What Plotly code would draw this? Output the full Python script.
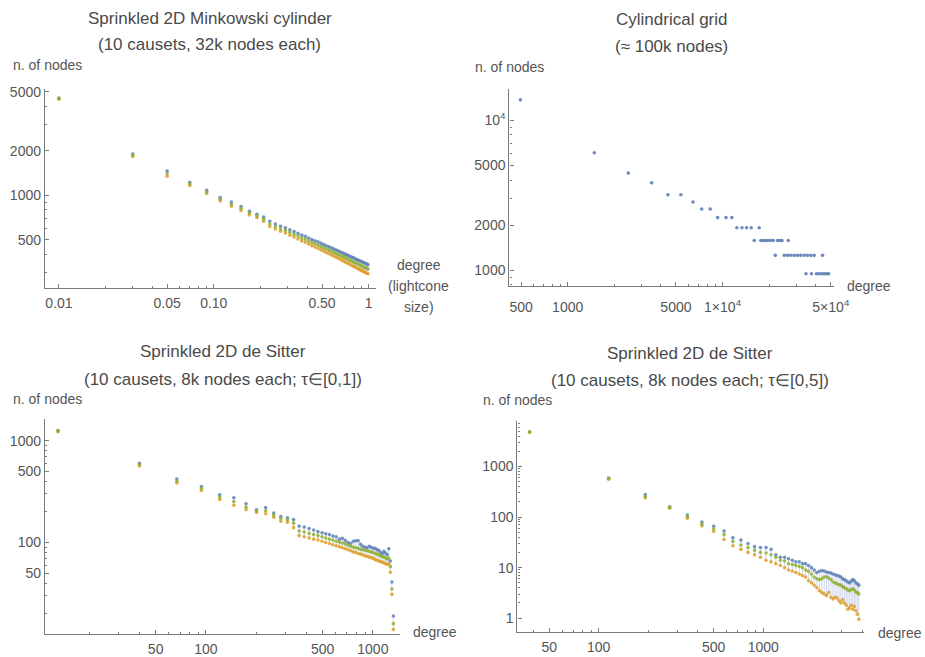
import plotly.graph_objects as go

W, H = 925, 657
PAGE_W = 940  # layout width; fractions below are taken against the 925-px reference

# ---------------- data ----------------
# Panel 1: Sprinkled 2D Minkowski cylinder (degree = lightcone size)
mink_degree = [0.01, 0.03, 0.05, 0.07, 0.09, 0.11, 0.13, 0.15, 0.17, 0.19,
               0.21, 0.23, 0.25, 0.27, 0.29, 0.31, 0.33, 0.35, 0.37, 0.39,
               0.41, 0.43, 0.45, 0.47, 0.49, 0.51, 0.53, 0.55, 0.57, 0.59,
               0.61, 0.63, 0.65, 0.67, 0.69, 0.71, 0.73, 0.75, 0.77, 0.79,
               0.81, 0.83, 0.85, 0.87, 0.89, 0.91, 0.93, 0.95, 0.97, 0.99]
mink_high = [4540, 1900, 1460, 1225, 1080, 965, 900, 840, 780, 745,
             712, 668, 640, 618, 603, 585, 568, 553, 538, 528,
             515, 502, 493, 485, 475, 466, 458, 451, 443, 436,
             429, 423, 417, 411, 405, 399, 394, 389, 384, 379,
             375, 370, 366, 362, 358, 354, 351, 347, 344, 340]
mink_mid = [4500, 1860, 1400, 1195, 1055, 940, 870, 815, 760, 728,
            690, 640, 615, 595, 580, 562, 545, 530, 515, 505,
            492, 480, 470, 462, 452, 443, 435, 428, 420, 413,
            406, 400, 394, 388, 382, 376, 371, 366, 361, 356,
            352, 347, 343, 339, 335, 331, 328, 324, 321, 318]
mink_low = [4460, 1830, 1345, 1165, 1030, 915, 845, 790, 738, 708,
            668, 615, 592, 572, 556, 538, 522, 507, 492, 482,
            469, 457, 447, 439, 429, 420, 412, 405, 397, 390,
            383, 377, 371, 365, 359, 353, 348, 343, 338, 333,
            329, 324, 320, 316, 312, 308, 305, 301, 298, 295]

# Panel 2: Cylindrical grid
grid_degree = [495, 1486, 2461, 3485, 4436, 5383, 6440, 7330, 8320,
               9290, 10520, 11480,
               12360, 13330, 14290, 15310, 17250,
               16000, 17660, 18280, 18930, 19600, 20400, 21230, 22650, 23450, 24170, 26540,
               21880, 25000, 26260, 27580, 28970, 30430, 31960, 33660, 35320, 37150, 39000, 44150,
               34540, 37500, 40380, 42070, 43750, 45290, 46880, 48310]
grid_count = [13700, 6080, 4450, 3830, 3190, 3190, 2858, 2560, 2560,
              2248, 2248, 2248,
              1925, 1925, 1925, 1925, 1925,
              1582, 1582, 1582, 1582, 1582, 1582, 1582, 1582, 1582, 1582, 1582,
              1259, 1259, 1259, 1259, 1259, 1259, 1259, 1259, 1259, 1259, 1259, 1259,
              950, 950, 950, 950, 950, 950, 950, 950]

# Panel 3: Sprinkled 2D de Sitter, tau in [0,1]
ds1_degree = [13, 40, 67, 94, 121, 147, 174, 201, 228, 255,
              281, 308, 335, 362, 388, 415, 442, 469, 496, 522,
              549, 576, 603, 630, 656, 683, 710, 737, 764, 790,
              817, 844, 871, 898, 924, 951, 978, 1005, 1032, 1058,
              1085, 1112, 1139, 1166, 1192, 1219, 1246, 1273, 1300, 1327]
ds1_high = [1255, 600, 420, 355, 295, 275, 240, 210, 220, 195,
            180, 175, 168, 145, 142, 137, 133, 128, 125, 122,
            120, 116, 114, 108, 110, 105, 100, 98, 103, 104,
            104, 96, 92, 90, 89, 92, 90, 88, 88, 85,
            84, 80, 78, 82, 79, 76, 87, 66, 41, 19]
ds1_mid = [1240, 582, 400, 340, 280, 253, 222, 205, 205, 186,
           172, 167, 155, 130, 127, 123, 120, 117, 114, 111,
           108, 106, 103, 101, 99, 97, 94, 92, 90, 89,
           88, 86, 85, 84, 83, 82, 81, 80, 78, 77,
           76, 74, 73, 72, 71, 69, 70, 58, 35, 16]
ds1_low = [1225, 565, 385, 325, 265, 232, 210, 198, 192, 177,
           162, 158, 140, 117, 114, 111, 108, 106, 103, 100,
           98, 95, 93, 91, 89, 87, 85, 83, 81, 80,
           78, 77, 76, 74, 73, 72, 71, 70, 68, 67,
           66, 65, 64, 63, 62, 61, 62, 51, 31, 14]

# Panel 4: Sprinkled 2D de Sitter, tau in [0,5]
ds5_degree = [38, 115, 192, 270, 346, 424, 500, 578, 654, 732,
              808, 886, 962, 1040, 1116, 1194, 1270, 1348, 1424, 1502,
              1578, 1656, 1732, 1810, 1886, 1964, 2040, 2118, 2194, 2272,
              2348, 2426, 2502, 2580, 2656, 2734, 2810, 2888, 2964, 3042,
              3118, 3196, 3272, 3350, 3426, 3504, 3580, 3658, 3734, 3812]
ds5_high = [4850, 590, 280, 160, 110, 80, 66, 53, 39, 35,
            30, 26, 25, 25, 23, 18, 16, 16, 15, 14,
            13, 13, 12, 12, 11, 10, 9, 8, 8.5, 8.8,
            8.6, 8.2, 8, 7.8, 7.5, 7.2, 7, 6.8, 6.5, 6,
            5.8, 5.5, 5.2, 5, 5.4, 5.8, 5.5, 5, 4.8, 4.5]
ds5_mid = [4800, 575, 255, 155, 102, 72, 58, 45, 33, 28,
           25, 22, 20, 19.5, 18, 16, 14, 13.5, 12, 11.5,
           11, 10.5, 10, 9, 8.5, 7.5, 6.5, 6, 5.8, 6,
           6.5, 6.6, 6.2, 5.8, 5.2, 5, 4.8, 4.6, 4.5, 4.2,
           4, 3.8, 3.6, 3.5, 3.7, 3.8, 3.6, 3.3, 3.2, 3.0]
ds5_low = [4750, 560, 240, 150, 95, 67, 52, 36, 27, 23,
           20, 18, 16, 14, 13, 12, 11, 10, 9, 8.5,
           8, 7.5, 7, 6.5, 5.5, 5, 4.5, 4, 3.5, 3.2,
           3, 2.8, 3.2, 2.6, 2.4, 2.6, 2.5, 2.2, 2, 2.3,
           2, 1.8, 1.5, 1.6, 1.8, 1.5, 1.7, 1.4, 1.2, 0.95]

# ---------------- style ----------------
BLUE = "#5E81B5"
ORANGE = "#E19C24"
GREEN = "#8FB032"
BAR = "rgba(175,185,225,0.6)"
AX = "#7a7a7a"
TXT = "#555555"
TIT = "#4a4a4a"
FONT = "Liberation Sans, Arial, sans-serif"

fig = go.Figure()


def add_three(xs, hi, mid, lo, n):
    xa, ya = ("x", "y") if n == 1 else (f"x{n}", f"y{n}")
    fig.add_trace(go.Scatter(
        x=xs, y=mid, mode="markers", marker=dict(size=1, opacity=0),
        error_y=dict(type="data", symmetric=False,
                     array=[h - m for h, m in zip(hi, mid)],
                     arrayminus=[m - l for m, l in zip(mid, lo)],
                     color=BAR, thickness=1, width=0),
        xaxis=xa, yaxis=ya, hoverinfo="skip", showlegend=False))
    for ys, c in ((hi, BLUE), (lo, ORANGE), (mid, GREEN)):
        fig.add_trace(go.Scatter(x=xs, y=ys, mode="markers",
                                 marker=dict(size=3.6, color=c, opacity=0.85),
                                 xaxis=xa, yaxis=ya, showlegend=False))


add_three(mink_degree, mink_high, mink_mid, mink_low, 1)
fig.add_trace(go.Scatter(x=grid_degree, y=grid_count, mode="markers",
                         marker=dict(size=3.6, color=BLUE, opacity=0.9),
                         xaxis="x2", yaxis="y2", showlegend=False))
add_three(ds1_degree, ds1_high, ds1_mid, ds1_low, 3)
add_three(ds5_degree, ds5_high, ds5_mid, ds5_low, 4)


def axis(dom_px, rng, vals, texts, minor, anchor, horizontal, standoff=0):
    if horizontal:
        dom = [dom_px[0] / W, dom_px[1] / W]
    else:
        dom = [1 - dom_px[1] / H, 1 - dom_px[0] / H]
    return dict(type="log", domain=dom, range=rng, tickmode="array",
                tickvals=vals, ticktext=texts, ticks="inside", ticklen=4,
                tickwidth=1, tickcolor=AX, showline=True, linecolor=AX,
                linewidth=1.3, showgrid=False, zeroline=False, anchor=anchor,
                ticklabelstandoff=standoff,
                tickfont=dict(family=FONT, size=14, color=TXT),
                minor=dict(tickmode="array", tickvals=minor, ticks="inside",
                           ticklen=2, tickcolor=AX, tickwidth=1, showgrid=False))


dec_minor = lambda lo, hi: [m * 10 ** e for e in range(lo, hi) for m in range(2, 10)]

layout_axes = dict(
    xaxis=axis((45, 376), [-2.09, 0.045], [0.01, 0.05, 0.1, 0.5, 1],
               ["0.01", "0.05", "0.10", "0.50", "1"], dec_minor(-2, 0), "y", True, 2),
    yaxis=axis((85, 287), [2.373, 3.72], [500, 1000, 2000, 5000],
               ["500", "1000", "2000", "5000"], dec_minor(2, 4), "x", False),
    xaxis2=axis((510, 835), [2.624, 4.72], [500, 1000, 5000, 10000, 50000],
                ["500", "1000", "5000", "1×10<sup>4</sup>", "5×10<sup>4</sup>"],
                dec_minor(2, 5), "y2", True, 8),
    yaxis2=axis((85, 285), [2.895, 4.21], [1000, 2000, 5000, 10000],
                ["1000", "2000", "5000", "10<sup>4</sup>"], dec_minor(2, 5), "x2", False),
    xaxis3=axis((45, 400), [1.036, 3.16], [50, 100, 500, 1000],
                ["50", "100", "500", "1000"], dec_minor(1, 4), "y3", True, 2),
    yaxis3=axis((420, 638), [1.10, 3.21], [50, 100, 500, 1000],
                ["50", "100", "500", "1000"], dec_minor(1, 4), "x3", False),
    xaxis4=axis((518, 865), [1.506, 3.613], [50, 100, 500, 1000],
                ["50", "100", "500", "1000"], dec_minor(1, 4), "y4", True, 2),
    yaxis4=axis((422, 636), [-0.279, 3.896], [1, 10, 100, 1000],
                ["1", "10", "100", "1000"], dec_minor(0, 4), "x4", False),
)


def note(text, xp, yp, size=14, color=TXT):
    return dict(text=text, x=xp / W, y=1 - (yp - 2) / H, xref="paper", yref="paper",
                xanchor="center", yanchor="middle", showarrow=False,
                font=dict(family=FONT, size=size, color=color))


annotations = [
    note("Sprinkled 2D Minkowski cylinder", 210, 16, 17, TIT),
    note("(10 causets, 32k nodes each)", 210, 42, 17, TIT),
    note("Cylindrical grid", 672, 17, 17, TIT),
    note("(≈ 100k nodes)", 672, 44, 17, TIT),
    note("Sprinkled 2D de Sitter", 223, 353, 17, TIT),
    note("(10 causets, 8k nodes each; τ∈[0,1])", 223, 382, 17, TIT),
    note("Sprinkled 2D de Sitter", 691, 355, 17, TIT),
    note("(10 causets, 8k nodes each; τ∈[0,5])", 691, 383, 17, TIT),
    note("n. of nodes", 48, 63),
    note("n. of nodes", 510, 65),
    note("n. of nodes", 48, 401),
    note("n. of nodes", 518, 402),
    note("degree", 419, 266),
    note("(lightcone", 419, 287),
    note("size)", 419, 308),
    note("degree", 870, 287),
    note("degree", 435, 638),
    note("degree", 901, 639),
]

fig.update_layout(width=PAGE_W, height=H, margin=dict(l=0, r=0, t=0, b=0),
                  paper_bgcolor="white", plot_bgcolor="white",
                  showlegend=False, annotations=annotations, **layout_axes)

fig.write_html(
    "out.html",
    config={"displayModeBar": False},
    post_script="document.body.style.margin='0';"
                "document.body.style.overflow='hidden';"
                "document.documentElement.style.overflow='hidden';",
)
